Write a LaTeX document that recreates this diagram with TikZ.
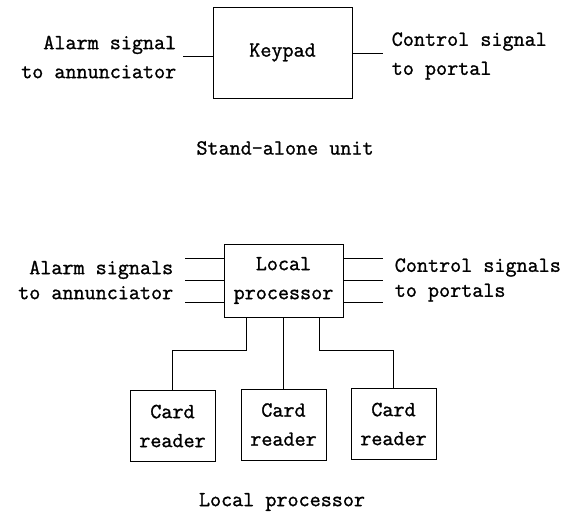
\documentclass[tikz,border=0pt]{standalone}
\usepackage{fontspec}
\newfontfamily\typewr[FakeBold=1.2]{Latin Modern Mono}
\begin{document}
\begin{tikzpicture}[x=1pt, y=-1pt, line width=0.9pt,
    font=\typewr\fontsize{21.5}{29}\selectfont,
    unitbox/.style={draw, align=center, inner sep=0pt},
    cardbox/.style={unitbox, minimum width=85pt, minimum height=71pt}]
    \useasboundingbox (0,0) rectangle (567,513);

    % Stand-alone unit
    \node[unitbox, minimum width=139pt, minimum height=91pt] (keypad) at (282.5,52.5) {Keypad};
    \node[anchor=east, align=right] (alarmtxt) at (180,57) {Alarm signal\\to annunciator};
    \node[anchor=west, align=left] (ctrltxt) at (388,56) {Control signal\\to portal};
    \coordinate (alarmend) at (183,56);
    \coordinate (ctrlend) at (383,53);
    \draw (alarmend) -- (alarmend -| keypad.west);
    \draw (keypad.east |- ctrlend) -- (ctrlend);
    \node (standalone) at (285,148) {Stand-alone unit};

    % Local processor
    \node[unitbox, minimum width=119pt, minimum height=73pt] (proc) at (283.5,280.5) {Local\\processor};
    \node[anchor=east, align=right, font=\typewr\fontsize{21.5}{25}\selectfont] (alarmstxt) at (177,280) {Alarm signals\\to annunciator};
    \node[anchor=west, align=left, font=\typewr\fontsize{21.5}{25}\selectfont] (ctrlstxt) at (391,280) {Control signals\\to portals};
    \foreach \y in {258,280,302} {
        \coordinate (alarm\y) at (185,\y);
        \coordinate (ctrl\y) at (383,\y);
        \draw (alarm\y) -- (alarm\y -| proc.west);
        \draw (proc.east |- ctrl\y) -- (ctrl\y);
    }

    % Card readers
    \node[cardbox] (card1) at (172.5,426) {Card\\reader};
    \node[cardbox] (card2) at (283.5,424.5) {Card\\reader};
    \node[cardbox] (card3) at (393.5,424) {Card\\reader};
    \draw ([xshift=-37.5pt]proc.south) -- ++(0,33) -| (card1.north);
    \draw (proc.south) -- (card2.north);
    \draw ([xshift=35.5pt]proc.south) -- ++(0,33) -| (card3.north);
    \node (localproc) at (282,502) {Local processor};
\end{tikzpicture}
\end{document}
